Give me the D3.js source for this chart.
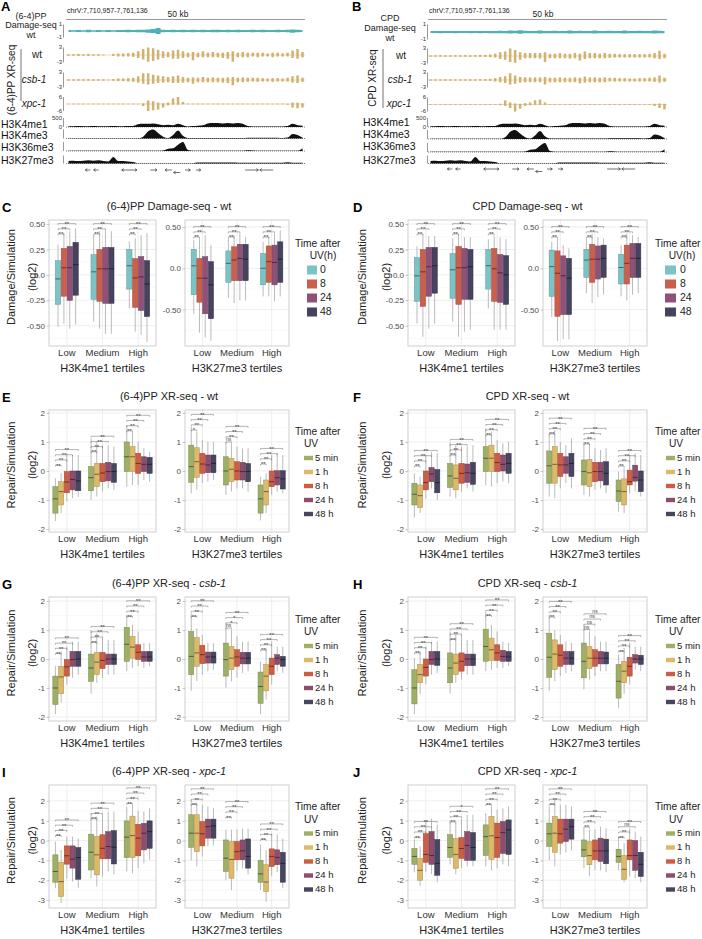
<!DOCTYPE html>
<html>
<head>
<meta charset="utf-8">
<script src="https://cdn.jsdelivr.net/npm/d3@7"></script>
<style>
  body { margin: 0; background: #fff; }
</style>
</head>
<body>
<svg id="fig" width="702" height="939"></svg>
<script>
const FONT = "'Liberation Sans', Arial, Helvetica, sans-serif";

// ---------- categories ----------
const groups = ["Low", "Medium", "High"];
const damageTimes = ["0", "8", "24", "48"];
const repairTimes = ["5 min", "1 h", "8 h", "24 h", "48 h"];
const damageColors = ["#7cc3c6", "#cc5f4c", "#8f5177", "#46435f"];
const repairColors = ["#9db065", "#ddb96a", "#cc5e45", "#8e4d6e", "#47455f"];
const markTitles = ["H3K4me1 tertiles", "H3K27me3 tertiles"];

// ---------- axis ticks ----------
const dmgAxes = [
  { domain: [-0.70, 0.54], ticks: [-0.5, -0.25, 0, 0.25, 0.5], labels: ["-0.50", "-0.25", "0.0", "0.25", "0.50"] },
  { domain: [-0.94, 0.584], ticks: [-0.5, 0, 0.5], labels: ["-0.50", "0.0", "0.50"] }
];
const repTicks = [-2, -1, 0, 1, 2];
const repLabels = ["-2", "-1", "0", "1", "2"];
const repTicks3 = [-3, -2, -1, 0, 1, 2];
const repLabels3 = ["-3", "-2", "-1", "0", "1", "2"];

// ---------- box values: [lower whisker, q1, median, q3, upper whisker] ----------
const c64K4 = [
  [[-0.51,-0.29,-0.04,0.14,0.30],[-0.48,-0.21,0.07,0.26,0.41],[-0.53,-0.25,0.07,0.28,0.43],[-0.49,-0.20,0.10,0.32,0.46]],
  [[-0.46,-0.24,0.03,0.20,0.39],[-0.53,-0.26,0.06,0.25,0.43],[-0.58,-0.28,0.06,0.27,0.44],[-0.58,-0.28,0.06,0.27,0.43]],
  [[-0.33,-0.14,0.09,0.25,0.33],[-0.56,-0.32,-0.03,0.16,0.36],[-0.59,-0.35,-0.02,0.18,0.39],[-0.66,-0.41,-0.09,0.14,0.41]]
];
const c64K27 = [
  [[-0.55,-0.32,0.03,0.23,0.34],[-0.78,-0.41,-0.12,0.12,0.36],[-0.84,-0.55,-0.12,0.14,0.40],[-0.88,-0.61,-0.20,0.08,0.28]],
  [[-0.36,-0.17,0.06,0.21,0.36],[-0.42,-0.15,0.10,0.26,0.40],[-0.39,-0.15,0.12,0.29,0.42],[-0.39,-0.15,0.11,0.29,0.38]],
  [[-0.34,-0.20,0.00,0.18,0.32],[-0.34,-0.17,0.08,0.27,0.38],[-0.40,-0.20,0.07,0.28,0.42],[-0.34,-0.17,0.11,0.32,0.46]]
];
const cpdK4 = [
  [[-0.48,-0.26,-0.01,0.17,0.28],[-0.61,-0.31,0.03,0.25,0.40],[-0.53,-0.21,0.08,0.27,0.38],[-0.48,-0.18,0.09,0.27,0.38]],
  [[-0.46,-0.23,0.05,0.21,0.36],[-0.61,-0.29,0.07,0.28,0.40],[-0.56,-0.24,0.07,0.26,0.37],[-0.54,-0.24,0.08,0.25,0.37]],
  [[-0.33,-0.14,0.09,0.25,0.35],[-0.54,-0.26,0.06,0.26,0.38],[-0.54,-0.27,0.02,0.20,0.37],[-0.54,-0.29,0.00,0.19,0.35]]
];
const cpdK27 = [
  [[-0.59,-0.34,0.02,0.22,0.32],[-0.88,-0.58,-0.06,0.21,0.36],[-0.86,-0.56,-0.09,0.15,0.28],[-0.86,-0.56,-0.12,0.12,0.24]],
  [[-0.30,-0.11,0.10,0.23,0.36],[-0.42,-0.17,0.11,0.29,0.42],[-0.35,-0.13,0.11,0.27,0.38],[-0.32,-0.11,0.12,0.28,0.36]],
  [[-0.34,-0.19,0.01,0.17,0.28],[-0.39,-0.19,0.06,0.28,0.42],[-0.32,-0.11,0.12,0.30,0.40],[-0.30,-0.11,0.12,0.30,0.38]]
];

const xr64wtK4 = [
  [[-1.72,-1.45,-0.96,-0.54,-0.25],[-1.45,-1.17,-0.71,-0.37,-0.08],[-1.05,-0.75,-0.38,-0.02,0.60],[-0.94,-0.65,-0.29,0.00,0.55],[-0.88,-0.68,-0.34,0.00,0.55]],
  [[-1.00,-0.68,-0.23,0.15,1.12],[-0.88,-0.54,-0.11,0.26,1.00],[-0.71,-0.37,-0.07,0.26,0.89],[-0.60,-0.34,-0.02,0.30,0.89],[-0.65,-0.39,-0.02,0.26,0.84]],
  [[-0.54,-0.02,0.49,1.00,1.58],[-0.48,-0.02,0.49,0.84,1.35],[-0.48,-0.08,0.26,0.61,1.00],[-0.31,-0.02,0.23,0.49,0.78],[-0.37,-0.08,0.23,0.47,0.66]]
];
const xr64wtK27 = [
  [[-0.77,-0.39,0.15,0.89,1.52],[-0.65,-0.22,0.32,0.80,1.35],[-0.42,-0.08,0.24,0.61,1.07],[-0.37,-0.06,0.21,0.55,1.00],[-0.31,-0.06,0.26,0.55,1.00]],
  [[-0.82,-0.48,0.00,0.49,1.00],[-0.71,-0.37,0.06,0.44,0.95],[-0.60,-0.31,0.00,0.32,0.84],[-0.60,-0.31,-0.02,0.30,0.78],[-0.71,-0.37,-0.02,0.26,0.78]],
  [[-1.70,-1.45,-0.96,-0.48,-0.20],[-1.45,-1.17,-0.71,-0.31,-0.08],[-0.82,-0.54,-0.37,0.00,0.55],[-0.71,-0.48,-0.23,0.01,0.61],[-0.77,-0.62,-0.27,0.01,0.55]]
];
const xrCpdWtK4 = [
  [[-1.60,-1.17,-0.80,-0.42,-0.08],[-1.45,-1.26,-0.85,-0.48,-0.20],[-0.95,-0.65,-0.40,0.00,0.55],[-0.60,-0.37,-0.10,0.12,0.66],[-1.00,-0.75,-0.40,0.05,0.61]],
  [[-0.88,-0.57,-0.17,0.26,1.00],[-0.94,-0.65,-0.25,0.21,0.89],[-0.71,-0.42,-0.08,0.26,0.84],[-0.60,-0.39,-0.06,0.24,0.84],[-0.71,-0.46,-0.08,0.30,0.89]],
  [[-0.48,-0.02,0.44,0.84,1.47],[-0.54,-0.02,0.44,0.89,1.35],[-0.42,-0.02,0.29,0.61,1.07],[-0.37,0.00,0.23,0.55,0.95],[-0.42,-0.08,0.26,0.61,1.00]]
];
const xrCpdWtK27 = [
  [[-0.88,-0.42,0.18,0.69,1.35],[-0.94,-0.42,0.23,0.84,1.41],[-0.60,-0.19,0.21,0.61,1.00],[-0.42,-0.08,0.21,0.49,0.89],[-0.60,-0.19,0.26,0.61,1.12]],
  [[-0.82,-0.48,-0.02,0.38,1.00],[-0.88,-0.54,-0.06,0.40,0.95],[-0.65,-0.37,-0.02,0.30,0.78],[-0.60,-0.34,-0.02,0.30,0.72],[-0.77,-0.48,-0.08,0.32,0.78]],
  [[-1.40,-1.05,-0.69,-0.31,-0.02],[-1.45,-1.17,-0.71,-0.27,0.09],[-0.77,-0.48,-0.37,0.03,0.55],[-0.70,-0.35,-0.22,0.20,0.60],[-0.88,-0.71,-0.31,0.00,0.55]]
];
const xr64csbK4 = [
  [[-1.90,-1.57,-1.00,-0.59,-0.25],[-1.50,-1.20,-0.62,-0.25,0.26],[-0.88,-0.59,-0.27,-0.02,0.43],[-0.65,-0.25,-0.02,0.26,0.60],[-0.54,-0.25,0.00,0.26,0.60]],
  [[-1.20,-0.77,-0.31,0.17,1.00],[-0.82,-0.54,-0.11,0.23,0.89],[-0.65,-0.33,-0.05,0.23,0.72],[-0.54,-0.19,0.00,0.17,0.66],[-0.54,-0.19,0.00,0.17,0.66]],
  [[-0.42,-0.08,0.51,1.09,1.52],[-0.31,0.03,0.41,0.78,1.18],[-0.25,-0.02,0.23,0.49,0.95],[-0.31,-0.08,0.07,0.26,0.55],[-0.25,-0.08,0.07,0.26,0.55]]
];
const xr64csbK27 = [
  [[-1.10,-0.54,0.09,0.95,1.58],[-0.77,-0.25,0.21,0.74,1.06],[-0.54,-0.16,0.15,0.47,0.83],[-0.42,-0.14,0.07,0.24,0.55],[-0.37,-0.14,0.07,0.24,0.55]],
  [[-1.00,-0.59,-0.02,0.55,1.23],[-0.77,-0.37,0.03,0.43,1.00],[-0.65,-0.25,0.07,0.32,0.78],[-0.48,-0.17,0.03,0.23,0.60],[-0.42,-0.17,0.03,0.23,0.60]],
  [[-1.91,-1.53,-0.95,-0.45,-0.08],[-1.40,-1.10,-0.59,-0.19,0.38],[-0.88,-0.54,-0.25,0.03,0.60],[-0.42,-0.19,0.03,0.15,0.43],[-0.48,-0.25,-0.02,0.09,0.43]]
];
const xrCpdCsbK4 = [
  [[-1.90,-1.55,-1.00,-0.37,0.03],[-1.20,-0.82,-0.54,-0.19,0.26],[-0.88,-0.59,-0.29,0.00,0.43],[-0.54,-0.19,-0.02,0.26,0.60],[-0.48,-0.22,0.00,0.26,0.60]],
  [[-1.20,-0.82,-0.31,0.21,0.95],[-0.82,-0.54,-0.14,0.17,0.89],[-0.71,-0.42,-0.08,0.21,0.83],[-0.54,-0.23,0.00,0.17,0.66],[-0.54,-0.23,0.00,0.17,0.66]],
  [[-0.42,-0.08,0.43,1.03,1.63],[-0.37,-0.05,0.32,0.72,1.18],[-0.31,-0.05,0.21,0.49,0.95],[-0.31,-0.08,0.09,0.30,0.60],[-0.25,-0.08,0.07,0.26,0.55]]
];
const xrCpdCsbK27 = [
  [[-1.10,-0.63,0.06,0.89,1.52],[-0.77,-0.37,0.17,0.66,1.00],[-0.59,-0.25,0.13,0.49,0.83],[-0.48,-0.19,0.03,0.26,0.60],[-0.42,-0.19,0.03,0.26,0.55]],
  [[-1.05,-0.65,-0.08,0.55,1.18],[-0.71,-0.33,0.03,0.43,0.95],[-0.59,-0.25,0.03,0.32,0.78],[-0.42,-0.17,0.03,0.26,0.60],[-0.42,-0.17,0.03,0.24,0.60]],
  [[-1.70,-1.35,-0.77,-0.19,0.15],[-1.20,-0.82,-0.42,-0.08,0.38],[-0.88,-0.59,-0.25,0.06,0.55],[-0.37,-0.14,0.00,0.15,0.43],[-0.42,-0.19,0.00,0.13,0.43]]
];
const xr64xpcK4 = [
  [[-2.40,-2.10,-1.56,-0.72,-0.05],[-3.16,-2.82,-2.07,-1.09,-0.47],[-1.90,-1.19,-0.77,-0.27,0.20],[-2.07,-1.39,-0.94,-0.27,0.20],[-2.40,-1.95,-0.86,-0.35,0.12]],
  [[-1.90,-1.48,-0.59,0.32,1.38],[-2.32,-1.73,-0.72,0.20,1.21],[-1.82,-0.92,-0.39,0.29,1.29],[-1.56,-0.92,-0.30,0.45,1.46],[-1.70,-1.18,-0.34,0.50,1.46]],
  [[-1.56,-0.86,0.17,0.99,1.71],[-1.65,-0.86,0.25,1.23,1.80],[-1.40,-0.77,0.12,0.82,1.50],[-1.14,-0.47,0.37,0.87,1.46],[-0.97,-0.39,0.45,0.99,1.63]]
];
const xr64xpcK27 = [
  [[-1.00,-0.34,0.37,1.30,2.05],[-1.30,-0.56,0.37,1.30,1.90],[-0.80,-0.27,0.34,0.96,1.80],[-0.30,0.12,0.70,1.08,1.72],[-0.25,0.12,0.74,1.08,1.63]],
  [[-2.00,-1.56,-0.89,0.03,0.55],[-2.50,-1.90,-0.95,-0.05,0.55],[-1.50,-0.97,-0.56,-0.05,0.55],[-1.40,-0.97,-0.52,0.03,0.60],[-1.70,-1.39,-0.80,0.08,0.60]],
  [[-2.50,-2.10,-1.68,-1.00,-0.20],[-3.08,-2.57,-2.09,-1.22,-0.50],[-1.80,-1.31,-0.80,-0.42,0.37],[-1.60,-1.22,-0.85,-0.47,0.30],[-2.40,-2.10,-1.15,-0.59,0.10]]
];
const xrCpdXpcK4 = [
  [[-1.60,-1.20,-0.80,-0.40,0.05],[-2.30,-2.00,-1.50,-0.90,-0.30],[-1.60,-1.10,-0.70,0.35,1.00],[-1.70,-1.20,-0.75,0.45,1.10],[-2.10,-1.75,-1.15,0.05,0.80]],
  [[-1.20,-0.85,-0.35,0.30,1.00],[-1.70,-1.40,-0.70,0.10,0.90],[-1.40,-0.90,-0.40,0.15,1.10],[-1.30,-1.00,-0.25,0.45,1.30],[-1.30,-1.00,-0.35,0.40,1.30]],
  [[-1.30,-0.75,0.20,0.79,1.38],[-1.50,-0.95,0.24,1.21,1.72],[-1.40,-0.85,0.15,0.88,1.55],[-1.20,-0.65,0.40,0.96,1.63],[-1.30,-0.70,0.54,1.04,1.72]]
];
const xrCpdXpcK27 = [
  [[-1.00,-0.30,0.34,0.88,1.72],[-1.30,-0.59,0.37,1.21,2.05],[-0.70,-0.13,0.34,1.08,1.80],[-0.60,-0.05,0.57,1.08,1.80],[-0.50,0.07,0.70,1.08,1.72]],
  [[-1.40,-0.82,-0.47,0.03,0.62],[-1.80,-1.22,-0.76,-0.05,0.55],[-1.50,-0.97,-0.52,0.03,0.55],[-1.50,-1.05,-0.52,0.12,0.70],[-1.60,-1.17,-0.52,0.07,0.62]],
  [[-1.50,-1.10,-0.80,-0.44,0.20],[-2.10,-1.95,-1.45,-0.75,-0.13],[-1.80,-0.97,-0.76,0.03,0.60],[-1.90,-1.50,-0.75,0.00,0.45],[-2.10,-1.81,-1.20,-0.59,0.20]]
];

// ---------- significance brackets: level of lowest bracket per group, labels bottom-to-top ----------
const brDamage = [[0.402, 0.402, 0.402], [0.378, 0.378, 0.378]];
const brE = [[0.20, 0.66, 1.38], [1.41, 1.00, 0.24]];
const brF = [[0.17, 0.55, 1.24], [1.28, 0.93, 0.17]];
const brG = [[0.19, 0.58, 1.47], [1.47, 1.07, 0.31]];
const brH = [[0.21, 0.68, 1.50], [1.45, 1.02, 0.27]];
const brI = [[0.25, 1.10, 1.87], [1.82, 1.18, 0.05]];
const brJ = [[0.17, 0.94, 1.82], [1.82, 0.68, 0.17]];
const s3 = ["**", "**", "**"];
const s4 = ["**", "**", "**", "**"];
const sigDamage = [[s3, s3, s3], [s3, s3, s3]];
const sigAll = [[s4, s4, s4], [s4, s4, s4]];
const sigE = [[s4, s4, s4], [["*", "**", "**", "**"], ["ns", "**", "**", "**"], s4]];
const sigG = [[s4, s4, s4], [s4, ["ns", "*", "*", "**"], s4]];
const sigH = [[s4, s4, s4], [s4, ["ns", "ns", "ns", "ns"], s4]];
const sigJ = [[s4, ["**", "**", "**", "*"], s4], [s4, s4, ["**", "**", "ns", "**"]]];

// ---------- genome browser tracks (48 bins over the region, fraction of track maximum) ----------
const regionKb = 50.18;
const dmgA = [.15,.12,.15,.12,.18,.12,.15,.12,.15,.12,.15,.15,.2,.15,.18,.2,.25,.3,.45,.2,.15,.18,.15,.2,.15,.18,.15,.2,.15,.18,.2,.15,.18,.15,.2,.15,.15,.18,.15,.2,.15,.15,.18,.15,.2,.25,.2,.15];
const dmgB = [.12,.12,.15,.12,.12,.15,.12,.12,.15,.12,.15,.12,.15,.15,.18,.15,.2,.18,.22,.18,.15,.15,.2,.15,.15,.18,.15,.15,.2,.15,.18,.15,.15,.2,.15,.15,.18,.15,.15,.2,.15,.15,.18,.15,.15,.2,.18,.15];
const xrAwtUp = [.1,.1,.15,.1,.15,.1,.1,.05,0,.15,.2,.2,.25,.3,.5,.8,1,.9,.7,.5,.4,.6,.7,.5,.3,.4,.3,.5,.3,.4,.3,.3,.4,.5,.3,.4,.3,.3,.3,.3,.2,.3,.3,.2,.3,.6,.8,.4];
const xrAwtDn = [.1,.1,.12,.1,.12,.1,.1,.05,0,.12,.2,.2,.2,.25,.4,.6,.9,.8,.6,.4,.3,.5,.5,.4,.3,.7,.3,.3,.3,.3,.3,.4,.5,.9,.3,.3,.3,.2,.3,.2,.2,.3,.2,.2,.2,.4,.5,.3];
const xrAcsbUp = [.1,.1,.12,.1,.12,.1,.1,.1,.05,.12,.2,.2,.25,.3,.5,.9,.9,.7,.6,.5,.4,.5,.6,.4,.3,.35,.3,.4,.3,.35,.3,.3,.35,.4,.3,.35,.3,.3,.3,.25,.2,.25,.25,.2,.3,.5,.6,.3];
const xrAcsbDn = [.1,.1,.1,.1,.1,.1,.1,.1,.05,.1,.15,.15,.2,.25,.35,.5,.6,.5,.4,.35,.3,.4,.4,.35,.3,.5,.3,.3,.3,.3,.3,.35,.4,.7,.3,.3,.25,.2,.25,.2,.2,.25,.2,.2,.2,.35,.4,.25];
const xrAxpcUp = [.05,.05,.05,.05,.05,.05,.05,.05,.05,.05,.05,.05,.05,.05,.05,.1,.5,.4,.2,.1,.2,.8,1,.3,.05,.05,.05,.05,.05,.05,.05,.05,.05,.05,.05,.05,.05,.05,.05,.05,.05,.05,.05,.05,.05,.2,.2,.1];
const xrAxpcDn = [.05,.05,.05,.05,.05,.05,.05,.05,.05,.05,.05,.05,.05,.05,.05,.3,1,.9,.8,.5,.2,.1,.1,.05,.05,.05,.05,.05,.05,.05,.05,.05,.05,.05,.05,.05,.05,.05,.05,.05,.05,.05,.05,.05,.1,.5,.6,.5];
const xrBwtUp = [.1,.1,.12,.1,.1,.12,.1,.12,.1,.12,.15,.15,.2,.3,.5,.6,1,.8,.5,.4,.4,.4,.4,.5,.3,.3,.4,.3,.3,.4,.3,.6,.4,.4,.3,.4,.3,.3,.25,.25,.25,.25,.25,.25,.3,.4,.7,.3];
const xrBwtDn = [.1,.1,.1,.1,.1,.1,.1,.1,.1,.1,.12,.12,.15,.2,.4,.5,.8,.9,.5,.3,.3,.3,.35,.8,.3,.3,.3,.3,.35,.3,.6,.4,.3,.3,.3,.3,.25,.2,.2,.2,.2,.2,.2,.2,.2,.3,.4,.3];
const xrBcsbUp = [.1,.1,.1,.1,.1,.1,.1,.1,.1,.1,.12,.12,.15,.25,.4,.5,.9,.6,.4,.35,.35,.35,.35,.4,.3,.3,.35,.3,.3,.35,.3,.45,.35,.35,.3,.35,.3,.3,.25,.25,.2,.2,.25,.25,.3,.35,.6,.3];
const xrBcsbDn = [.1,.1,.1,.1,.1,.1,.1,.1,.1,.1,.1,.1,.12,.2,.3,.4,.6,.5,.35,.3,.3,.3,.3,.6,.3,.3,.3,.3,.3,.3,.45,.35,.3,.3,.3,.3,.2,.2,.2,.2,.2,.2,.2,.2,.2,.25,.35,.25];
const xrBxpcUp = [.05,.05,.05,.05,.05,.05,.05,.05,.05,.05,.05,.05,.05,.05,.1,.6,.3,.15,.1,.2,.3,.6,.7,.3,.05,.05,.05,.05,.05,.05,.05,.05,.05,.05,.05,.05,.05,.05,.05,.05,.05,.05,.05,.05,.05,.1,.15,.1];
const xrBxpcDn = [.05,.05,.05,.05,.05,.05,.05,.05,.05,.05,.05,.05,.05,.05,.1,.2,.5,1,.6,.2,.1,.05,.05,.05,.05,.05,.05,.05,.05,.05,.05,.05,.05,.05,.05,.05,.05,.05,.05,.05,.05,.05,.05,.05,.05,.2,.5,.7];
const h3k4me1 = [.08,.08,.1,.08,.08,.1,.08,.08,.08,.1,.08,.08,.1,.12,.3,.35,.35,.4,.3,.2,.25,.2,.35,.2,.05,.1,.15,.2,.4,.45,.45,.4,.45,.4,.45,.35,.1,.05,.05,.05,.05,.05,.05,.05,.1,.35,.2,.15];
const h3k4me3 = [.03,.03,.03,.03,.03,.03,.03,.03,.03,.03,.03,.03,.03,.03,.03,.2,.8,1,.6,.2,.05,.4,.9,.3,.05,.05,.05,.05,.05,.05,.05,.05,.05,.05,.05,.05,.08,.08,.08,.08,.08,.08,.08,.05,.1,.5,.4,.1];
const h3k36me3 = [.02,.02,.02,.02,.02,.02,.02,.02,.02,.02,.02,.02,.02,.02,.02,.02,.02,.02,.02,.05,.25,.3,.7,1,.1,.02,.02,.02,.02,.02,.02,.02,.02,.02,.02,.02,.08,.05,.02,.02,.02,.02,.02,.02,.02,.02,.02,.3];
const h3k27me3 = [.3,.35,.3,.35,.4,.35,.4,.3,.25,.8,.3,.3,.25,.2,.03,.03,.03,.03,.03,.03,.03,.03,.03,.03,.03,.03,.12,.12,.12,.12,.12,.12,.12,.12,.1,.1,.1,.1,.1,.1,.1,.1,.1,.1,.15,.1,.1,.1];
const histNames = ["H3K4me1", "H3K4me3", "H3K36me3", "H3K27me3"];
// genes: [start kb, end kb, strand, row]
const genes = [[4.05,5.1,-1,0],[5.8,6.85,-1,0],[11.7,12.9,-1,0],[12.9,14.9,1,0],[17.7,19.1,1,0],[20.8,22.2,-1,0],[22.6,24.0,-1,1],[25.0,26.1,1,0],[27.3,28.3,1,0],[37.6,40.4,1,0],[40.7,43.5,-1,0]];

// ---------- layout ----------
const svg = d3.select("#fig").attr("font-family", FONT);

const colL = { plots: [[49, 156], [185, 289]], letterX: 2, yt: [12, 33],
  dmgLeg: { tx: 295, uv: 323, sw: 307, sww: 10, txt: 320 },
  repLeg: { tx: 295, uv: 311, sw: 304, sww: 9, txt: 315 } };
const colR = { plots: [[408, 515], [543, 647]], letterX: 353, yt: [363, 387],
  dmgLeg: { tx: 655, uv: 682, sw: 665, sww: 11, txt: 680 },
  repLeg: { tx: 655, uv: 676, sw: 666, sww: 9, txt: 677 } };
const rowC = { top: 220, bottom: 346 };
const rowE = { top: 410, bottom: 532 };
const rowG = { top: 597, bottom: 721 };
const rowI = { top: 785, bottom: 908 };

function styleAxis(a) {
  a.attr("font-family", FONT).attr("font-size", 8);
  a.select(".domain").remove();
  a.selectAll(".tick line").attr("stroke", "#a0a0a0").attr("stroke-width", 0.6);
  a.selectAll(".tick text").attr("fill", "#4d4d4d");
}

function boxPanel(p) {
  const c = p.col, r = p.row, n = p.times.length, isDmg = n === 4;
  const g = svg.append("g");
  const yMid = (r.top + r.bottom) / 2;

  g.append("text").attr("x", c.letterX).attr("y", r.top - 8)
    .attr("font-size", 13).attr("font-weight", "bold").text(p.letter);
  const tt = g.append("text").attr("x", (c.plots[0][0] + c.plots[1][1]) / 2).attr("y", r.top - 13)
    .attr("text-anchor", "middle").attr("dominant-baseline", "middle").attr("font-size", 11).attr("fill", "#222");
  p.title.forEach(s => tt.append("tspan").attr("font-style", s.i ? "italic" : null).text(s.t));

  [p.yTitle, "(log2)"].forEach((t, i) => {
    g.append("text").attr("transform", `translate(${c.yt[i]},${yMid - 6}) rotate(-90)`)
      .attr("text-anchor", "middle").attr("dominant-baseline", "middle").attr("font-size", 11).attr("fill", "#222").text(t);
  });

  [0, 1].forEach(s => {
    const [x0, x1] = c.plots[s];
    const ax = p.axes[s];
    const y = d3.scaleLinear().domain(ax.domain).range([r.bottom, r.top]);
    const xb = d3.scaleBand().domain(groups).range([x0, x1]);
    const bw = xb.bandwidth() * (isDmg ? 0.165 : 0.16);
    const xi = d3.scaleBand().domain(p.times).range([-bw * n / 2, bw * n / 2]);
    const cx = (gr, t) => xb(gr) + xb.bandwidth() / 2 + xi(t) + bw / 2;

    // grid
    const step = ax.ticks[1] - ax.ticks[0];
    const minors = d3.range(ax.ticks[0] - step / 2, ax.ticks[ax.ticks.length - 1] + step, step)
      .filter(v => v > ax.domain[0] && v < ax.domain[1]);
    g.append("g").selectAll("line").data(minors).join("line")
      .attr("x1", x0).attr("x2", x1).attr("y1", d => y(d)).attr("y2", d => y(d))
      .attr("stroke", "#f2f2f2").attr("stroke-width", 0.5);
    g.append("g").selectAll("line").data(ax.ticks).join("line")
      .attr("x1", x0).attr("x2", x1).attr("y1", d => y(d)).attr("y2", d => y(d))
      .attr("stroke", "#e6e6e6").attr("stroke-width", 0.7);
    g.append("g").selectAll("line").data(groups).join("line")
      .attr("x1", d => xb(d) + xb.bandwidth() / 2).attr("x2", d => xb(d) + xb.bandwidth() / 2)
      .attr("y1", r.top).attr("y2", r.bottom).attr("stroke", "#e6e6e6").attr("stroke-width", 0.7);

    // boxes
    const rows = [];
    p.data[s].forEach((grp, gi) => grp.forEach((b, ti) => rows.push({ gr: groups[gi], t: p.times[ti], ti, b })));
    const bx = g.append("g").selectAll("g").data(rows).join("g");
    bx.append("line").attr("x1", d => cx(d.gr, d.t)).attr("x2", d => cx(d.gr, d.t))
      .attr("y1", d => y(d.b[0])).attr("y2", d => y(d.b[4]))
      .attr("stroke", "#9e9e9e").attr("stroke-width", 0.7);
    bx.append("rect").attr("x", d => cx(d.gr, d.t) - bw / 2 + 0.25).attr("width", bw - 0.5)
      .attr("y", d => y(d.b[3])).attr("height", d => y(d.b[1]) - y(d.b[3]))
      .attr("fill", d => p.colors[d.ti])
      .attr("stroke", d => d3.color(p.colors[d.ti]).darker(0.7)).attr("stroke-width", 0.5);
    bx.append("line").attr("x1", d => cx(d.gr, d.t) - bw / 2 + 0.3).attr("x2", d => cx(d.gr, d.t) + bw / 2 - 0.3)
      .attr("y1", d => y(d.b[2])).attr("y2", d => y(d.b[2]))
      .attr("stroke", d => d3.color(p.colors[d.ti]).darker(1.8)).attr("stroke-width", 1);

    // significance brackets
    groups.forEach((gr, gi) => {
      const xa = cx(gr, p.times[0]);
      const base = y(p.br[s][gi]);
      for (let k = 1; k < n; k++) {
        const yy = base - (k - 1) * 5.2;
        const xk = cx(gr, p.times[k]);
        g.append("path").attr("d", `M${xa},${yy + 1.4}V${yy}H${xk}V${yy + 1.4}`)
          .attr("fill", "none").attr("stroke", "#6a6a6a").attr("stroke-width", 0.5);
        const lab = p.sig[s][gi][k - 1];
        g.append("text").attr("x", (xa + xk) / 2).attr("y", lab.includes("*") ? yy + 2.4 : yy - 0.7)
          .attr("text-anchor", "middle").attr("font-size", lab.includes("*") ? 6 : 5).attr("fill", "#444").text(lab);
      }
    });

    // frame and axes
    g.append("rect").attr("x", x0).attr("y", r.top).attr("width", x1 - x0).attr("height", r.bottom - r.top)
      .attr("fill", "none").attr("stroke", "#c4c4c4").attr("stroke-width", 0.8);
    const a = g.append("g").attr("transform", `translate(${x0},0)`)
      .call(d3.axisLeft(y).tickValues(ax.ticks).tickFormat((d, i) => ax.labels[i]).tickSize(2.5).tickPadding(1.5));
    styleAxis(a);
    g.append("g").selectAll("text").data(groups).join("text")
      .attr("x", d => xb(d) + xb.bandwidth() / 2).attr("y", r.bottom + 7.5)
      .attr("text-anchor", "middle").attr("dominant-baseline", "middle").attr("font-size", 9.5).attr("fill", "#333").text(d => d);
    g.append("text").attr("x", (x0 + x1) / 2).attr("y", r.bottom + 23)
      .attr("text-anchor", "middle").attr("dominant-baseline", "middle").attr("font-size", 11).attr("fill", "#222").text(markTitles[s]);
  });

  // legend
  const L = isDmg ? c.dmgLeg : c.repLeg;
  const ly = yMid - 39;
  g.append("text").attr("x", L.tx).attr("y", ly).attr("dominant-baseline", "middle").attr("font-size", 10.2).attr("fill", "#222").text("Time after");
  g.append("text").attr("x", L.uv).attr("y", ly + 12.5).attr("text-anchor", "middle").attr("dominant-baseline", "middle")
    .attr("font-size", 10.2).attr("fill", "#222").text(isDmg ? "UV(h)" : "UV");
  p.times.forEach((t, i) => {
    const yy = ly + 26 + i * 14;
    const hh = isDmg ? 9 : 4.4;
    g.append("rect").attr("x", L.sw).attr("y", yy - hh / 2).attr("width", L.sww).attr("height", hh).attr("fill", p.colors[i]);
    g.append("text").attr("x", L.txt).attr("y", yy).attr("dominant-baseline", "middle")
      .attr("font-size", isDmg ? 10.5 : 9.5).attr("fill", "#222").text(t);
  });
}

const dmgP = { times: damageTimes, colors: damageColors, axes: dmgAxes, br: brDamage, sig: sigDamage, row: rowC, yTitle: "Damage/Simulation" };
const repAxEF = [0, 1].map(() => ({ domain: [-2.1, 2.1], ticks: repTicks, labels: repLabels }));
const repAxGH = [0, 1].map(() => ({ domain: [-2.14, 2.14], ticks: repTicks, labels: repLabels }));
const repAxIJ = [0, 1].map(() => ({ domain: [-3.4, 2.8], ticks: repTicks3, labels: repLabels3 }));
const repP = { times: repairTimes, colors: repairColors, yTitle: "Repair/Simulation" };

boxPanel({ ...dmgP, letter: "C", col: colL, title: [{ t: "(6-4)PP Damage-seq - wt" }], data: [c64K4, c64K27] });
boxPanel({ ...dmgP, letter: "D", col: colR, title: [{ t: "CPD Damage-seq - wt" }], data: [cpdK4, cpdK27] });
boxPanel({ ...repP, letter: "E", col: colL, row: rowE, axes: repAxEF, br: brE, sig: sigE, title: [{ t: "(6-4)PP XR-seq - wt" }], data: [xr64wtK4, xr64wtK27] });
boxPanel({ ...repP, letter: "F", col: colR, row: rowE, axes: repAxEF, br: brF, sig: sigAll, title: [{ t: "CPD XR-seq - wt" }], data: [xrCpdWtK4, xrCpdWtK27] });
boxPanel({ ...repP, letter: "G", col: colL, row: rowG, axes: repAxGH, br: brG, sig: sigG, title: [{ t: "(6-4)PP XR-seq - " }, { t: "csb-1", i: true }], data: [xr64csbK4, xr64csbK27] });
boxPanel({ ...repP, letter: "H", col: colR, row: rowG, axes: repAxGH, br: brH, sig: sigH, title: [{ t: "CPD XR-seq - " }, { t: "csb-1", i: true }], data: [xrCpdCsbK4, xrCpdCsbK27] });
boxPanel({ ...repP, letter: "I", col: colL, row: rowI, axes: repAxIJ, br: brI, sig: sigAll, title: [{ t: "(6-4)PP XR-seq - " }, { t: "xpc-1", i: true }], data: [xr64xpcK4, xr64xpcK27] });
boxPanel({ ...repP, letter: "J", col: colR, row: rowI, axes: repAxIJ, br: brJ, sig: sigJ, title: [{ t: "CPD XR-seq - " }, { t: "xpc-1", i: true }], data: [xrCpdXpcK4, xrCpdXpcK27] });

// ---------- genome browser panels ----------
function genomePanel(o) {
  const g = svg.append("g");
  const nb = h3k4me1.length;
  const xk = d3.scaleLinear().domain([0, regionKb]).range([o.x0, o.x1]);
  const xb = d3.scaleLinear().domain([0, nb]).range([o.x0, o.x1]);
  const bwid = xb(1) - xb(0);

  g.append("text").attr("x", o.letterX).attr("y", 11).attr("font-size", 13).attr("font-weight", "bold").text(o.letter);
  g.append("text").attr("x", o.x0 + 1).attr("y", 13).attr("font-size", 7).attr("fill", "#222").text("chrV:7,710,957-7,761,136");
  g.append("text").attr("x", o.kbX).attr("y", 17).attr("text-anchor", "middle").attr("font-size", 8.5).attr("fill", "#222").text("50 kb");
  g.append("line").attr("x1", o.x0).attr("x2", o.x1).attr("y1", 19.5).attr("y2", 19.5).attr("stroke", "#555").attr("stroke-width", 0.6);

  o.head.forEach((t, i) => g.append("text").attr("x", o.headX).attr("y", o.headY[i]).attr("text-anchor", "middle")
    .attr("dominant-baseline", "middle").attr("font-size", 9).attr("fill", "#222").text(t));

  const tickLab = (txt, yy) => g.append("text").attr("x", o.axisX - 1.5).attr("y", yy).attr("text-anchor", "end")
    .attr("dominant-baseline", "middle").attr("font-size", 6).attr("fill", "#333").text(txt);
  const axisLine = (y0, y1) => g.append("line").attr("x1", o.axisX).attr("x2", o.axisX).attr("y1", y0).attr("y2", y1)
    .attr("stroke", "#555").attr("stroke-width", 0.6);

  // damage track
  const yd = d3.scaleLinear().domain([-1, 1]).range([o.dmg.cy + o.dmg.h, o.dmg.cy - o.dmg.h]);
  g.append("path").datum(o.dmg.v)
    .attr("d", d3.area().x((d, i) => xb(i + 0.5)).y0(d => yd(-d)).y1(d => yd(d)).curve(d3.curveStep))
    .attr("fill", "#4fb0b5");
  tickLab("1", o.dmg.cy - o.dmg.h); tickLab("-1", o.dmg.cy + o.dmg.h); axisLine(o.dmg.cy - o.dmg.h, o.dmg.cy + o.dmg.h);

  // XR-seq tracks
  g.append("text").attr("transform", `translate(${o.xrLabX},${o.xrLabY}) rotate(-90)`).attr("text-anchor", "middle")
    .attr("dominant-baseline", "middle").attr("font-size", 10).attr("fill", "#222").text(o.xrLab);
  g.append("line").attr("x1", o.barX).attr("x2", o.barX).attr("y1", o.barY[0]).attr("y2", o.barY[1])
    .attr("stroke", "#8a8a8a").attr("stroke-width", 1.2);
  o.tracks.forEach(t => {
    const yt = d3.scaleLinear().domain([-1, 1]).range([t.cy + t.h, t.cy - t.h]);
    g.append("line").attr("x1", o.x0).attr("x2", o.x1).attr("y1", t.cy).attr("y2", t.cy).attr("stroke", "#d9c38f").attr("stroke-width", 0.6);
    g.append("g").selectAll("rect").data(t.up).join("rect")
      .attr("x", (d, i) => xb(i) + bwid * 0.25).attr("width", bwid * 0.5)
      .attr("y", d => yt(d)).attr("height", (d, i) => yt(-t.dn[i]) - yt(d))
      .attr("fill", "#c9a457").attr("opacity", 0.85);
    g.append("text").attr("x", t.nx).attr("y", t.cy).attr("text-anchor", "middle").attr("dominant-baseline", "middle")
      .attr("font-size", 10).attr("font-style", t.it ? "italic" : null).attr("fill", "#222").text(t.name);
    tickLab(t.max, t.cy - t.h); tickLab("-" + t.max, t.cy + t.h); axisLine(t.cy - t.h, t.cy + t.h);
  });

  // histone tracks
  [h3k4me1, h3k4me3, h3k36me3, h3k27me3].forEach((v, i) => {
    const base = o.hBase[i], hh = o.hH[i];
    const yh = d3.scaleLinear().domain([0, 1]).range([base, base - hh]);
    g.append("line").attr("x1", o.x0).attr("x2", o.x1).attr("y1", base).attr("y2", base)
      .attr("stroke", "#222").attr("stroke-width", 0.6).attr("stroke-dasharray", "1,1");
    g.append("path").datum(v).attr("d", d3.area().x((d, j) => xb(j + 0.5)).y0(base).y1(d => yh(d)).curve(d3.curveMonotoneX))
      .attr("fill", "#111");
    g.append("text").attr("x", o.hLabX).attr("y", o.hLabY[i]).attr("dominant-baseline", "middle")
      .attr("font-size", 10.5).attr("fill", "#111").text(histNames[i]);
    axisLine(base - hh, base);
    if (i === 0) { tickLab("500", base - hh); tickLab("0", base); }
  });

  // genes
  g.append("g").selectAll("path").data(genes).join("path")
    .attr("d", d => {
      const a = xk(d[0]), b = xk(d[1]), yy = o.geneY + d[3] * 2.5;
      const tip = d[2] > 0 ? b : a, dir = d[2] > 0 ? -1 : 1;
      return `M${a},${yy}H${b}M${tip + dir * 2},${yy - 1.4}L${tip},${yy}L${tip + dir * 2},${yy + 1.4}`;
    })
    .attr("fill", "none").attr("stroke", "#333").attr("stroke-width", 0.7);
}

genomePanel({
  letter: "A", letterX: 1, x0: 66, x1: 305, kbX: 178, axisX: 63.5,
  head: ["(6-4)PP", "Damage-seq", "wt"], headX: 31, headY: [16.5, 26, 35.5],
  dmg: { cy: 31, h: 6.5, v: dmgA },
  xrLab: "(6-4)PP XR-seq", xrLabX: 12, xrLabY: 80, barX: 21, barY: [49, 101],
  tracks: [
    { name: "wt", nx: 37, cy: 55, h: 7.5, max: 3, up: xrAwtUp, dn: xrAwtDn },
    { name: "csb-1", it: true, nx: 34, cy: 80, h: 7.5, max: 3, up: xrAcsbUp, dn: xrAcsbDn },
    { name: "xpc-1", it: true, nx: 34, cy: 104, h: 7, max: 6, up: xrAxpcUp, dn: xrAxpcDn }
  ],
  hBase: [127, 138.5, 151, 163.5], hH: [9, 9, 9, 8], hLabX: 1, hLabY: [125, 136.5, 148.5, 161], geneY: 170
});
genomePanel({
  letter: "B", letterX: 352, x0: 428, x1: 667, kbX: 543, axisX: 427.5,
  head: ["CPD", "Damage-seq", "wt"], headX: 390, headY: [18.5, 28.5, 38.5],
  dmg: { cy: 32, h: 7.5, v: dmgB },
  xrLab: "CPD XR-seq", xrLabX: 373, xrLabY: 78, barX: 383, barY: [49, 108],
  tracks: [
    { name: "wt", nx: 401, cy: 56, h: 7.5, max: 3, up: xrBwtUp, dn: xrBwtDn },
    { name: "csb-1", it: true, nx: 400, cy: 80, h: 7.5, max: 3, up: xrBcsbUp, dn: xrBcsbDn },
    { name: "xpc-1", it: true, nx: 399, cy: 104.5, h: 7, max: 6, up: xrBxpcUp, dn: xrBxpcDn }
  ],
  hBase: [127, 139, 152, 163.5], hH: [9, 9, 9, 8], hLabX: 363, hLabY: [123.5, 135, 147, 161], geneY: 169
});
</script>
</body>
</html>
